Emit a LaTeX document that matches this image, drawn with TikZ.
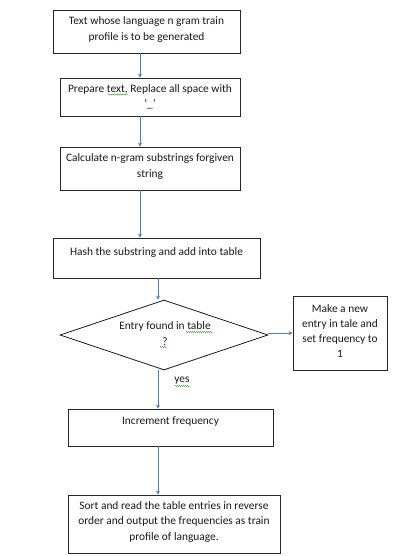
\documentclass[tikz,border=0pt]{standalone}
\usepackage{fontspec}
\setmainfont{Carlito}
\usetikzlibrary{shapes.geometric,arrows.meta,decorations.pathmorphing}
\begin{document}
\begin{tikzpicture}[x=1pt,y=-1pt,
  box/.style={draw=black!85,line width=0.9pt,rectangle,inner sep=0pt},
  txt/.style={font=\fontsize{11.4}{15.3}\selectfont,text=black!90,align=center,inner sep=0pt},
  arr/.style={draw={rgb,255:red,74;green,126;blue,187},line width=0.8pt,-{Stealth[length=4pt,width=4pt]}},
  squig/.style={draw={rgb,255:red,60;green,160;blue,60},line width=0.4pt,decorate,decoration={snake,amplitude=0.6pt,segment length=2pt}}]
\useasboundingbox (0,0) rectangle (409,556);
\fill[white] (0,0) rectangle (409,556);
% boxes
\node[box,minimum width=187pt,minimum height=43pt] (b1) at (146.5,31.5) {};
\node[box,minimum width=180pt,minimum height=38pt] (b2) at (150,97) {};
\node[box,minimum width=180pt,minimum height=43pt] (b3) at (150,168.5) {};
\node[box,minimum width=207pt,minimum height=40pt] (b4) at (156.5,258) {};
\node[draw=black!90,line width=0.8pt,diamond,minimum width=208pt,minimum height=70pt,inner sep=0pt] (d) at (164,335) {};
\node[box,minimum width=94pt,minimum height=74pt] (b5) at (340,333) {};
\node[box,minimum width=205pt,minimum height=37pt] (b6) at (170.5,427.5) {};
\node[box,minimum width=212pt,minimum height=58pt] (b7) at (174,524) {};
% texts
\node[txt] (t1) at (146.5,29.5) {Text whose language n gram train\\profile is to be generated};
\node[txt] (t2) at (150,97) {Prepare text, Replace all space with\\`\_'};
\node[txt] (t3) at (150,166.5) {Calculate n-gram substrings forgiven\\string};
\node[txt] (t4) at (156.5,253) {Hash the substring and add into table};
\node[txt] (td) at (165,333.5) {Entry found in table\\?};
\node[txt] (t5) at (340,331) {Make a new\\entry in tale and\\set frequency to\\1};
\node[txt] (t6) at (170.5,422) {Increment frequency};
\node[txt] (t7) at (174,522) {Sort and read the table entries in reverse\\order and output the frequencies as train\\profile of language.};
\node[txt] (yes) at (182,381) {yes};
% spelling marks
\draw[squig] (108,94.5) -- (128,94.5);
\draw[squig] (186,332) -- (213,332);
\draw[squig] (160,347) -- (167,347);
\draw[squig] (175,386) -- (190,386);
% connectors
\coordinate (xa) at (140,0);
\coordinate (xb) at (158,0);
\draw[arr] (b1.south -| xa) -- (b2.north -| xa);
\draw[arr] (b2.south -| xa) -- (b3.north -| xa);
\draw[arr] (b3.south -| xa) -- (b4.north -| xa);
\draw[arr] (b4.south -| xb) -- (d.north -| xb);
\draw[arr] (d.east) ++(0,-2) coordinate (de) -- (b5.west |- de);
\draw[arr] (d.south -| xb) -- (b6.north -| xb);
\draw[arr] (b6.south -| xb) -- (b7.north -| xb);
\end{tikzpicture}
\end{document}
